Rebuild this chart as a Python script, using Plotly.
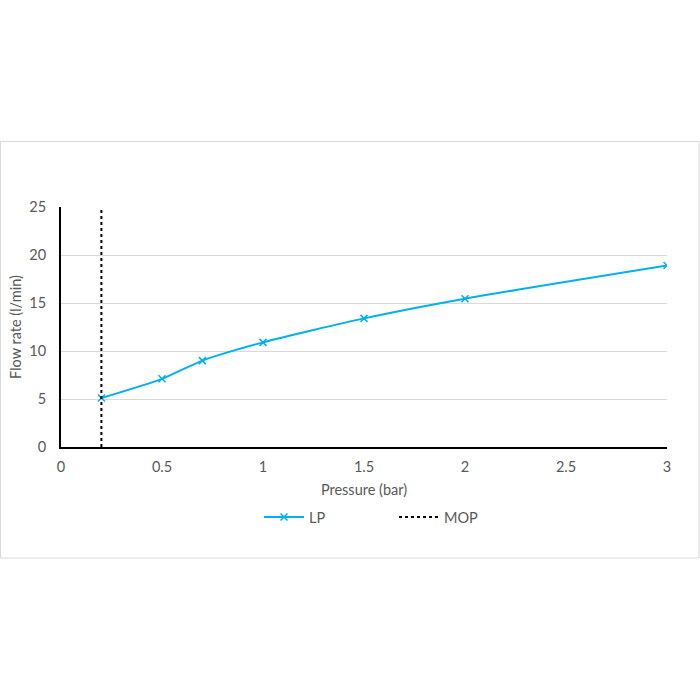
import plotly.graph_objects as go

pressure = [0.2, 0.5, 0.7, 1.0, 1.5, 2.0, 3.0]
flow = [5.1, 7.1, 9.0, 10.9, 13.4, 15.45, 18.9]
mop_x = [0.2, 0.2]
mop_y = [0, 25]
x_ticks = [0, 0.5, 1, 1.5, 2, 2.5, 3]
x_ticklabels = ["0", "0.5", "1", "1.5", "2", "2.5", "3"]
y_ticks = [0, 5, 10, 15, 20, 25]

FONT = "Lato"
GREY = "#595959"
FS = 14.5

fig = go.Figure()
fig.add_trace(go.Scatter(
    x=pressure, y=flow, name="LP", mode="lines+markers",
    line=dict(color="#00B0F0", width=2, shape="spline", smoothing=0.6),
    marker=dict(symbol="x-thin", size=7, line=dict(color="#00B0F0", width=1.5)),
))
fig.add_trace(go.Scatter(
    x=mop_x, y=mop_y, name="MOP", mode="lines",
    line=dict(color="#000000", width=2, dash="dot"),
))

L, R, T, B = 61, 33, 207, 253
W, H = 700, 700
pw, ph = W - L - R, H - T - B

def px2x(px):
    return (px - L) / pw

def py2y(py):
    return (H - B - py) / ph

fig.update_layout(
    width=W, height=H,
    margin=dict(l=L, r=R, t=T, b=B, autoexpand=False),
    paper_bgcolor="white", plot_bgcolor="white",
    font=dict(family=FONT, size=FS, color=GREY),
    showlegend=True,
    legend=dict(orientation="h", x=px2x(259), xanchor="left", y=py2y(501), yanchor="top",
                font=dict(size=FS, color=GREY), entrywidth=80, itemwidth=40),
    xaxis=dict(range=[0, 3], tickvals=x_ticks, ticktext=x_ticklabels, automargin=False,
               showgrid=False, zeroline=False, showline=True, linecolor="black", linewidth=2,
               ticks="", ticklabelstandoff=6, tickfont=dict(size=FS, color=GREY),
               title=dict(text="Pressure (bar)", font=dict(size=FS, color=GREY), standoff=10)),
    yaxis=dict(range=[0, 25], tickvals=y_ticks, showgrid=True, gridcolor="#D9D9D9", gridwidth=1,
               zeroline=False, showline=True, linecolor="black", linewidth=2, ticks="", automargin=False,
               ticklabelstandoff=10, tickfont=dict(size=FS, color=GREY),
               title=dict(text="Flow rate (l/min)", font=dict(size=FS, color=GREY), standoff=4)),
    shapes=[dict(type="rect", xref="paper", yref="paper",
                 x0=px2x(0.5), x1=px2x(699), y0=py2y(558), y1=py2y(141.5),
                 line=dict(color="#D9D9D9", width=1), fillcolor="rgba(0,0,0,0)", layer="below")],
)

fig.write_html("out.html")
